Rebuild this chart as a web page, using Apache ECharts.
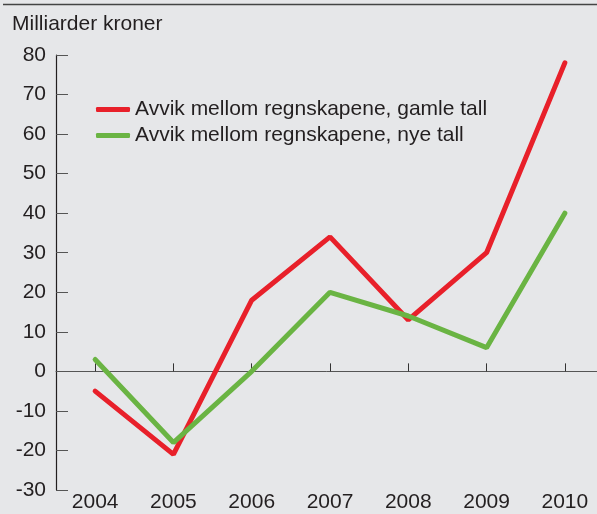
<!DOCTYPE html>
<html style="height: 100%">
<head>
<meta charset="utf-8">
<script src="https://cdn.jsdelivr.net/npm/echarts@6/dist/echarts.min.js"></script>
</head>
<body style="height: 100%; margin: 0; background: #e6e7e9">
<div id="container" style="width: 597px; height: 514px"></div>
<script type="text/javascript">
var years = ['2004', '2005', '2006', '2007', '2008', '2009', '2010'];
var gamleTall = [-5, -21, 18, 34, 13, 30, 78];
var nyeTall = [3, -18, 0, 20, 14, 6, 40];
var seriesNames = ['Avvik mellom regnskapene, gamle tall', 'Avvik mellom regnskapene, nye tall'];

var font = 'Liberation Sans, Arial, sans-serif';
var chart = echarts.init(document.getElementById('container'));
chart.setOption({
    backgroundColor: '#e6e7e9',
    animation: false,
    graphic: [
        { type: 'line', shape: { x1: 3, y1: 4.5, x2: 597, y2: 4.5 }, style: { stroke: '#444', lineWidth: 1.5 } },
        { type: 'text', left: 12, top: 14, style: { text: 'Milliarder kroner', font: '21px ' + font, fill: '#231f20' } }
    ],
    legend: {
        orient: 'vertical',
        left: 91,
        top: 94,
        itemWidth: 34,
        itemHeight: 5,
        itemGap: 5,
        icon: 'roundRect',
        textStyle: { fontFamily: font, fontSize: 21, color: '#231f20' },
        data: seriesNames
    },
    grid: { left: 56, width: 548, top: 55, bottom: 24, containLabel: false, outerBoundsMode: 'none' },
    xAxis: [
        {
            type: 'category',
            data: years,
            position: 'bottom',
            axisLine: { show: false, onZero: false },
            axisTick: { show: false },
            axisLabel: { fontFamily: font, fontSize: 21, color: '#231f20', margin: 2 }
        },
        {
            type: 'category',
            data: years,
            position: 'bottom',
            axisLine: { onZero: true, lineStyle: { color: '#555', width: 1 } },
            axisTick: { show: true, inside: true, alignWithLabel: true, length: 8, lineStyle: { color: '#333' } },
            axisLabel: { show: false }
        }
    ],
    yAxis: {
        type: 'value',
        min: -30,
        max: 80,
        interval: 10,
        axisLine: { show: true, lineStyle: { color: '#231f20', width: 1.2 } },
        axisTick: { show: true, inside: true, length: 12, lineStyle: { color: '#555' } },
        splitLine: { show: false },
        axisLabel: { fontFamily: font, fontSize: 21, color: '#231f20', margin: 10 }
    },
    series: [
        {
            name: seriesNames[0],
            type: 'line',
            xAxisIndex: 1,
            data: gamleTall,
            symbol: 'none',
            color: '#e8202a',
            lineStyle: { width: 5, color: '#e8202a', cap: 'round' },
            z: 3
        },
        {
            name: seriesNames[1],
            type: 'line',
            xAxisIndex: 1,
            data: nyeTall,
            symbol: 'none',
            color: '#6ab443',
            lineStyle: { width: 5, color: '#6ab443', cap: 'round' },
            z: 4
        }
    ]
});
</script>
</body>
</html>
